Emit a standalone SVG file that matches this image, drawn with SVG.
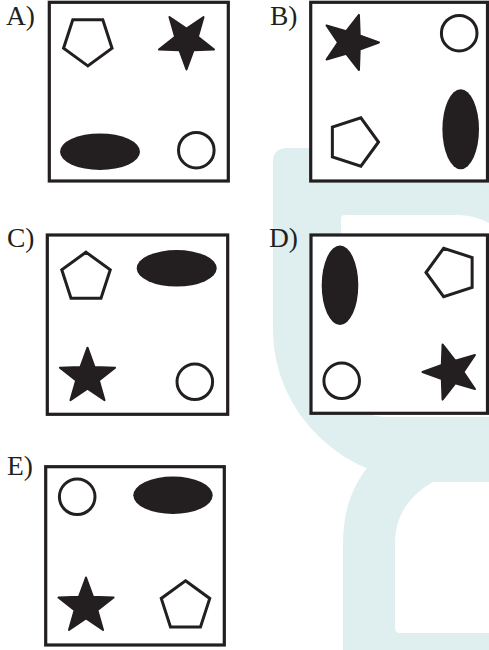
<svg xmlns="http://www.w3.org/2000/svg" width="489" height="650" viewBox="0 0 489 650">
  <style>
    .box { fill: #ffffff; stroke: #231f20; stroke-width: 3.2; }
    .lbl { font-family: "Liberation Serif", "Times New Roman", serif; font-size: 27.5px; fill: #231f20; }
    .hollow { fill: none; stroke: #231f20; stroke-width: 3; stroke-linejoin: miter; }
    .solid { fill: #231f20; }
    .starf { fill: #231f20; stroke: #231f20; stroke-width: 2; stroke-linejoin: round; }
    .wm { fill: #dfeeee; }
    .hole { fill: #ffffff; }
  </style>
  <defs>
    <polygon id="star" points="0,-29 7.05,-9.71 27.58,-8.96 11.41,3.71 17.05,23.46 0,12 -17.05,23.46 -11.41,3.71 -27.58,-8.96 -7.05,-9.71"/>
    <polygon id="pent" points="0,-25.5 24.25,-7.88 14.99,20.63 -14.99,20.63 -24.25,-7.88"/>
  </defs>
  <rect x="0" y="0" width="489" height="650" fill="#ffffff"/>
  <g id="watermark">
    <path class="wm" d="M 489 148 H 287 Q 273 148 273 162 V 330 A 160 152 0 0 0 433 482 H 489 Z"/>
    <path class="wm" d="M 372 462 C 352 485 343 510 343 545 V 650 H 489 V 462 Z"/>
    <path class="hole" d="M 341 219 Q 341 215 345 215 H 457 A 68 68 0 0 1 489 223 V 417 H 385 A 44 44 0 0 1 341 373 Z"/>
    <path class="hole" d="M 433 482 H 489 V 633 H 400 Q 395 633 395 628 V 543 C 395 515 410 495 433 482 Z"/>
  </g>
  <g id="optionA">
    <rect class="box" x="49.3" y="2.3" width="179" height="178.7"/>
    <text class="lbl" x="6" y="24.5">A)</text>
    <use href="#pent" class="hollow" transform="translate(87.8,40.4) rotate(180)"/>
    <use href="#star" class="starf" transform="translate(186.5,40.5) rotate(180)"/>
    <ellipse class="solid" cx="100" cy="151.7" rx="40" ry="18.3"/>
    <circle class="hollow" cx="196.3" cy="150.2" r="17.8"/>
  </g>
  <g id="optionB">
    <rect class="box" x="310.7" y="2.3" width="176.8" height="178.7"/>
    <text class="lbl" x="270" y="24.5">B)</text>
    <use href="#star" class="starf" transform="translate(350,42.5) rotate(90)"/>
    <circle class="hollow" cx="459.2" cy="33.2" r="17.8"/>
    <use href="#pent" class="hollow" transform="translate(353,142) rotate(90)"/>
    <ellipse class="solid" cx="460.7" cy="129.2" rx="18.3" ry="40"/>
  </g>
  <g id="optionC">
    <rect class="box" x="47.3" y="235" width="180.4" height="179.3"/>
    <text class="lbl" x="7" y="247">C)</text>
    <use href="#pent" class="hollow" transform="translate(86,277.7)"/>
    <ellipse class="solid" cx="176.7" cy="268.3" rx="40" ry="18.3"/>
    <use href="#star" class="starf" transform="translate(87.5,376.7)"/>
    <circle class="hollow" cx="194.8" cy="381.8" r="17.8"/>
  </g>
  <g id="optionD">
    <rect class="box" x="311" y="235" width="176.5" height="178.3"/>
    <text class="lbl" x="269" y="247">D)</text>
    <ellipse class="solid" cx="340" cy="285.3" rx="18.3" ry="39.7"/>
    <use href="#pent" class="hollow" transform="translate(451.5,272.5) rotate(-90)"/>
    <circle class="hollow" cx="341.7" cy="380.8" r="17.8"/>
    <use href="#star" class="starf" transform="translate(451.5,372) rotate(-90)"/>
  </g>
  <g id="optionE">
    <rect class="box" x="45.7" y="466.7" width="178.6" height="178.3"/>
    <text class="lbl" x="7" y="475">E)</text>
    <circle class="hollow" cx="77.2" cy="496.8" r="17.8"/>
    <ellipse class="solid" cx="173" cy="495.3" rx="39.7" ry="18.7"/>
    <use href="#star" class="starf" transform="translate(86,606.5)"/>
    <use href="#pent" class="hollow" transform="translate(185.5,606.3)"/>
  </g>
</svg>
